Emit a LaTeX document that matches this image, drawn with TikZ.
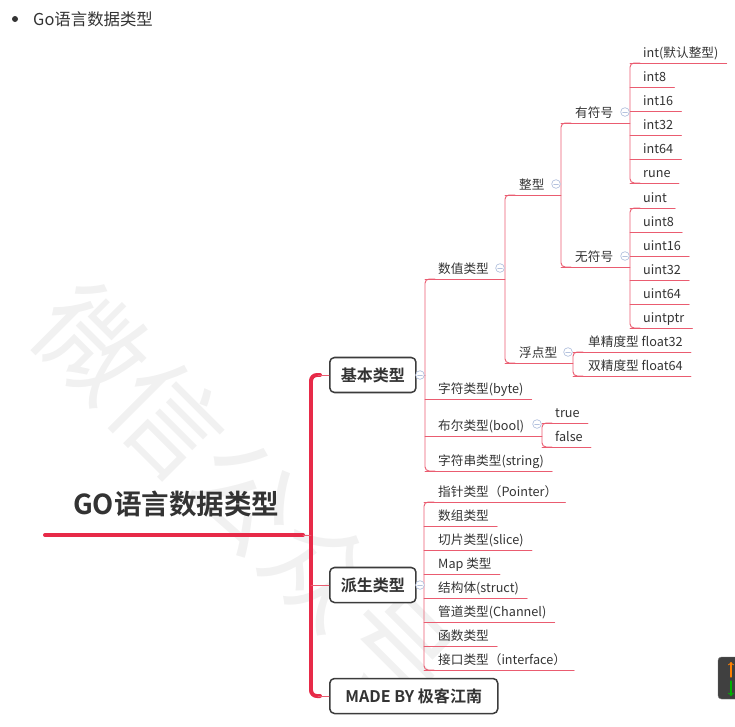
\documentclass[tikz,border=0pt]{standalone}
\usepackage{fontspec}
\setmainfont{Noto Sans CJK SC}[BoldFont={Noto Sans CJK SC Bold}]
\definecolor{txtgray}{HTML}{333333}
\definecolor{branch}{RGB}{234,92,112}
\definecolor{trunk}{RGB}{231,42,72}
\definecolor{boxline}{HTML}{3C3C3C}
\definecolor{iconblue}{RGB}{180,194,222}
\definecolor{mark}{HTML}{F1F1F1}
\begin{document}
\begin{tikzpicture}[x=0.03cm,y=-0.03cm,line join=round,line cap=round,
  leaf/.style={anchor=base west,inner sep=0pt,text=txtgray,font=\fontsize{10.8}{12}\selectfont},
  ul/.style={draw=branch,line width=0.8pt},
  topic/.style={draw=boxline,line width=1.3pt,rounded corners=4pt,fill=white,anchor=west,
    inner xsep=0.33cm,minimum height=1.05cm,text=txtgray,font=\fontsize{13.7}{15}\selectfont\bfseries},
  fold/.style={draw=iconblue,fill=white,line width=0.6pt,circle,inner sep=0pt,minimum size=0.26cm,
    path picture={\draw[iconblue,line width=0.6pt] ([xshift=-0.07cm]path picture bounding box.center)
      -- ([xshift=0.07cm]path picture bounding box.center);}}]
\useasboundingbox (0,0) rectangle (735,726);
% watermark
\node[text=mark,rotate=-45,font=\fontsize{92}{94}\selectfont] (wm) at (245,495) {微信公众号};
% heading
\fill[txtgray] (15,19) circle (3);
\node[anchor=base west,inner sep=0pt,text=txtgray,font=\fontsize{14}{16}\selectfont] (head) at (33,25) {Go语言数据类型};
% root and trunk
\node[anchor=base west,inner sep=0pt,text=txtgray,font=\fontsize{23.5}{26}\selectfont\bfseries] (root) at (73,514) {GO语言数据类型};
\draw[trunk,line width=3.4pt] (45,535) -- (303,535);
\draw[trunk,line width=3.4pt,rounded corners=5pt] (320,375) -- (311,375) -- (311,696) -- (320,696);
\draw[ul] (303,535) -- (311,535);
\node[topic] (basic) at (329,375) {基本类型};
\node[topic] (derived) at (329,585) {派生类型};
\node[topic,minimum width=5.04cm] (made) at (329,696) {MADE BY 极客江南};
\draw[ul] (318,375) -- (basic.west);
\draw[ul] (311,585) -- (derived.west);
\draw[ul] (318,696) -- (made.west);
% basic types
\draw[ul] (basic.east) -- (425,375);
\draw[ul,rounded corners=3.5pt] (435,279) -- (425,279) -- (425,471) -- (435,471);
\node[leaf] (num) at (438,273) {数值类型};
\draw[ul] (425,279) -- (505,279);
\foreach \n/\t/\y in {byte/字符类型(byte)/399,str/字符串类型(string)/471}{
  \node[leaf] (\n) at (438,\y-6) {\t};
  \draw[ul] (425,\y) -- ([shift={(8,6)}]\n.base east);
}
\node[leaf] (bool) at (438,430) {布尔类型(bool)};
\draw[ul] (425,436) -- (542,436);
\draw[ul,rounded corners=3.5pt] (552,423) -- (542,423) -- (542,447) -- (552,447);
\foreach \n/\t/\y in {yes/true/423,no/false/447}{
  \node[leaf] (\n) at (555,\y-6) {\t};
  \draw[ul] (542,\y) -- ([shift={(8,6)}]\n.base east);
}
% numeric
\draw[ul,rounded corners=3.5pt] (515,195) -- (505,195) -- (505,363) -- (515,363);
\node[leaf] (int) at (519,189) {整型};
\draw[ul] (505,195) -- (561,195);
\node[leaf] (flt) at (519,357) {浮点型};
\draw[ul] (505,363) -- (573,363);
\draw[ul,rounded corners=3.5pt] (583,352) -- (573,352) -- (573,376) -- (583,376);
\foreach \n/\t/\y in {f32/单精度型 float32/352,f64/双精度型 float64/376}{
  \node[leaf] (\n) at (588,\y-6) {\t};
  \draw[ul] (573,\y) -- ([shift={(8,6)}]\n.base east);
}
\draw[ul,rounded corners=3.5pt] (571,123) -- (561,123) -- (561,267) -- (571,267);
\node[leaf] (sgn) at (575,117) {有符号};
\draw[ul] (561,123) -- (630,123);
\node[leaf] (uns) at (575,261) {无符号};
\draw[ul] (561,267) -- (630,267);
% signed
\draw[ul,rounded corners=3.5pt] (640,63) -- (630,63) -- (630,183) -- (640,183);
\foreach \n/\t/\y in {i0/int(默认整型)/63,i8/int8/87,i16/int16/111,i32/int32/135,i64/int64/159,rune/rune/183}{
  \node[leaf] (\n) at (643,\y-6) {\t};
  \draw[ul] (630,\y) -- ([shift={(8,6)}]\n.base east);
}
% unsigned
\draw[ul,rounded corners=3.5pt] (640,208) -- (630,208) -- (630,328) -- (640,328);
\foreach \n/\t/\y in {u0/uint/208,u8/uint8/232,u16/uint16/256,u32/uint32/280,u64/uint64/304,uptr/uintptr/328}{
  \node[leaf] (\n) at (643,\y-6) {\t};
  \draw[ul] (630,\y) -- ([shift={(8,6)}]\n.base east);
}
% derived types
\draw[ul] (derived.east) -- (424,585);
\draw[ul,rounded corners=3.5pt] (434,502) -- (424,502) -- (424,670) -- (434,670);
\foreach \n/\t/\y in {ptr/指针类型（Pointer）/502,arr/数组类型/526,slc/切片类型(slice)/550,map/Map 类型/574,
  stc/结构体(struct)/598,chn/管道类型(Channel)/622,fun/函数类型/646,ifc/接口类型（interface）/670}{
  \node[leaf] (\n) at (438,\y-6) {\t};
  \draw[ul] (424,\y) -- ([shift={(8,6)}]\n.base east);
}
% fold marks
\node[fold] at (420,375) {};
\node[fold] at (420,585) {};
\node[fold] at (500,268) {};
\node[fold] at (537,424) {};
\node[fold] at (556,184) {};
\node[fold] at (568,352) {};
\node[fold] at (625,112) {};
\node[fold] at (625,256) {};
% scroll buttons
\draw[fill=black!75,draw=black!55,rounded corners=3pt] (718,657) rectangle (745,699);
\draw[orange,line width=0.9pt,->] (731,677) -- (731,662);
\draw[green!70!black,line width=0.9pt,->] (731,681) -- (731,696);
\end{tikzpicture}
\end{document}
